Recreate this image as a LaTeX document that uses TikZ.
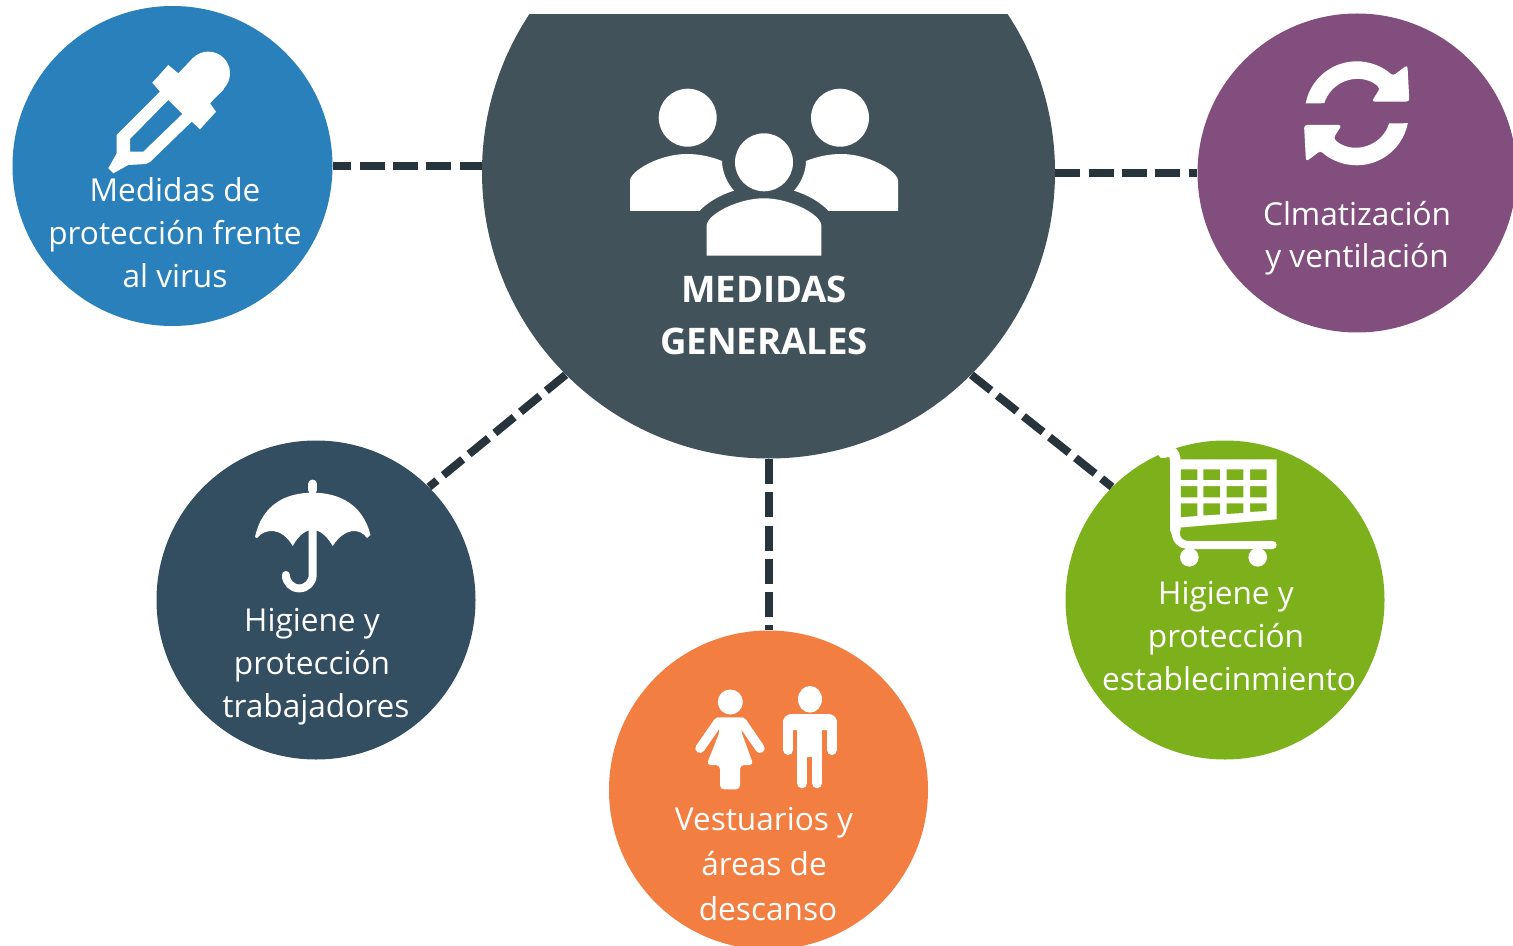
\documentclass[tikz,border=0pt]{standalone}
\usepackage{fontspec}
\setmainfont{Open Sans}
\definecolor{mainc}{HTML}{42525B}
\definecolor{bluec}{HTML}{2980BA}
\definecolor{purplec}{HTML}{814E7D}
\definecolor{darkc}{HTML}{334E60}
\definecolor{greenc}{HTML}{7CB11B}
\definecolor{orangec}{HTML}{F27E42}
\definecolor{linec}{HTML}{27343C}
\tikzset{
  disc/.style={circle,inner sep=0pt,minimum size=159.5pt},
  label text/.style={text=white,align=center,inner sep=0pt,font=\fontsize{15.8}{21.5}\selectfont},
  title text/.style={text=white,align=center,inner sep=0pt,font=\fontsize{18.3}{26}\selectfont\bfseries},
  link/.style={draw=linec,line width=4pt,dash pattern=on 12.5pt off 4.15pt},
  icon/.style={fill=white,draw=none}
}
\begin{document}
\begin{tikzpicture}[x=0.5pt,y=-0.5pt]
\useasboundingbox (0,0) rectangle (1513,946);
\clip (0,0) rectangle (1513,946);
\begin{scope}
  \clip (0,14.5) rectangle (1513,946);
  \node[circle,inner sep=0pt,minimum size=286.5pt,fill=mainc] (main) at (768.5,172) {};
\end{scope}
\node[disc,minimum size=160pt,fill=bluec] (blue) at (172.5,166) {};
\node[disc,fill=purplec] (purple) at (1357,173) {};
\node[disc,fill=darkc] (dark) at (316,600) {};
\node[disc,fill=greenc] (green) at (1225,600) {};
\node[disc,fill=orangec] (orange) at (768.5,790) {};
% connectors
\draw[link,dash phase=1.5pt] (blue.east -| main.west) -- (blue.east);
\draw[link] (main.east |- purple.west) -- (purple.west);
\draw[link] (main.225) -- (dark.45);
\draw[link] (main.315) -- (green.135);
\draw[link] (main.south) -- (orange.north);
% labels
\node[title text] (tmain) at (764,315) {MEDIDAS\\GENERALES};
\node[label text] (tblue) at (175,233) {Medidas de\\protección frente\\al virus};
\node[label text,font=\fontsize{15.8}{21}\selectfont] (tpurple) at (1357,238.5) {Clmatización\\y ventilación};
\node[label text] (tdark) at (316,667) {\mbox{Higiene y\hspace{4pt}}\\\mbox{protección\hspace{4pt}}\\trabajadores};
\node[label text] (tgreen) at (1229,636) {\mbox{Higiene y\hspace{3pt}}\\\mbox{protección\hspace{3pt}}\\establecinmiento};
\node[label text,font=\fontsize{15.8}{22.5}\selectfont] (torange) at (768,864) {\mbox{Vestuarios y\hspace{4pt}}\\\mbox{áreas de\hspace{4pt}}\\descanso};
% people icon
\fill[icon] (687.7,117.7) circle[radius=29];
\fill[icon] (840,117.7) circle[radius=29];
\fill[icon] (764,162.3) circle[radius=29];
\fill[icon] (630,211) -- (630,180) .. controls (632,170) and (660,154) .. (687,154) .. controls (700,154) and (712,157) .. (722,161) .. controls (722,170) and (726,182) .. (734,190.7) .. controls (720,195) and (708,202) .. (699.3,211) -- cycle;
\fill[icon] (898,211) -- (898,180) .. controls (896,170) and (868,154) .. (841,154) .. controls (828,154) and (816,157) .. (806,161) .. controls (806,170) and (802,182) .. (794,190.7) .. controls (808,195) and (820,202) .. (828.7,211) -- cycle;
\fill[icon] (706.7,255.7) -- (706.7,225) .. controls (708,214) and (738,198.3) .. (764,198.3) .. controls (790,198.3) and (820,214) .. (821.3,225) -- (821.3,255.7) -- cycle;
% dropper icon
\fill[icon] (208.3,73.3) circle[radius=21.7];
\fill[icon,even odd rule] (108.3,168.3) -- (116.7,153.3) -- (116.7,135) -- (160,91.7) -- (152.3,82.7) -- (168.3,65) -- (178.3,73.3) -- (193,58) -- (224,89) -- (210,103.3) -- (216,111.7) -- (200,129.3) -- (191.7,121.7) -- (150,162) -- (146,164) -- (128.3,165) -- (113.3,173.3) -- cycle
  (168.3,100) -- (182.3,114) -- (143.3,151.7) -- (130,151.7) -- (130,139) -- cycle;
% refresh icon
\begin{scope}[shift={(1356.7,113.3)}]
\fill[icon,rounded corners=1.5pt] (191:52) arc[start angle=191,end angle=314,radius=52] -- (50.7,-48.3) -- (52.7,-11.7) -- (15,-11.7) -- (23.3,-25) [sharp corners] arc[start angle=313,end angle=197,radius=34] -- cycle;
\begin{scope}[rotate=180]
\fill[icon,rounded corners=1.5pt] (191:52) arc[start angle=191,end angle=314,radius=52] -- (50.7,-48.3) -- (52.7,-11.7) -- (15,-11.7) -- (23.3,-25) [sharp corners] arc[start angle=313,end angle=197,radius=34] -- cycle;
\end{scope}
\end{scope}
% umbrella icon
\draw[white,line width=4.5pt,line cap=round] (312.8,484) -- (312.8,490);
\fill[icon] (255,537) .. controls (262,505) and (285,492.7) .. (312.7,492.7) .. controls (340,492.7) and (363,505) .. (370.5,535) -- (367,538) .. controls (360,528) and (345,527) .. (332.7,546) .. controls (325,533) and (318,530) .. (312.7,530) .. controls (307,530) and (300,533) .. (292.7,546) .. controls (282,527) and (265,528) .. (257,538) -- cycle;
\draw[white,line width=4pt,line cap=round] (312.7,530) -- (312.7,575) arc[start angle=0,end angle=180,radius=13.4];
% cart icon
\fill[icon,even odd rule] (1175,459.3) -- (1276.7,459.3) -- (1276.7,519.3) -- (1175,528) -- cycle
  (1180.7,469.3) rectangle (1197.3,480) (1203.3,469.3) rectangle (1220,480) (1226.7,469.3) rectangle (1243.3,480) (1250,469.3) rectangle (1266.7,480)
  (1180.7,486) rectangle (1197.3,497.3) (1203.3,486) rectangle (1220,497.3) (1226.7,486) rectangle (1243.3,497.3) (1250,486) rectangle (1266.7,497.3)
  (1180.7,503.3) -- (1197.3,503.3) -- (1197.3,516) -- (1180.7,517.3) -- cycle
  (1203.3,503.3) -- (1220,503.3) -- (1220,514.5) -- (1203.3,515.5) -- cycle
  (1226.7,503.3) -- (1243.3,503.3) -- (1243.3,513) -- (1226.7,514) -- cycle
  (1250,503.3) -- (1266.7,503.3) -- (1266.7,511) -- (1250,512) -- cycle;
\draw[white,line width=5.3pt,line cap=round] (1163,453) .. controls (1168,451) and (1175.3,449) .. (1175.3,462) -- (1175.3,530);
\draw[white,line width=4pt,line cap=round] (1175.5,530) .. controls (1175.5,540) and (1180,545) .. (1190,545) -- (1272.7,545);
\fill[icon] (1189.3,557.3) circle[radius=9.3];
\fill[icon] (1257.7,557.3) circle[radius=9.3];
% woman icon
\fill[icon] (730.3,702) circle[radius=12.5];
\draw[white,line width=4.7pt,line cap=round] (718.3,722) -- (700,748.3);
\draw[white,line width=4.7pt,line cap=round] (742,722) -- (760,748.3);
\fill[icon,rounded corners=2pt] (716,717.3) -- (744,717.3) -- (741,731) -- (753.5,765) -- (740,765) -- (740,789.3) -- (720,789.3) -- (720,765) -- (706.5,765) -- (720,731) -- cycle;
% man icon
\fill[icon] (810,699.3) ellipse[x radius=12,y radius=13.3];
\draw[white,line width=5pt,line cap=round] (788.3,721) -- (788.3,750);
\draw[white,line width=5pt,line cap=round] (831.7,721) -- (831.7,750);
\fill[icon,rounded corners=4pt] (783.3,730) -- (783.3,714) -- (836.7,714) -- (836.7,730) -- cycle;
\fill[icon] (796.7,716) rectangle (822.3,757);
\draw[white,line width=5.3pt,line cap=round] (802,750) -- (802,783);
\draw[white,line width=5.3pt,line cap=round] (817,750) -- (817,783);
\end{tikzpicture}
\end{document}
